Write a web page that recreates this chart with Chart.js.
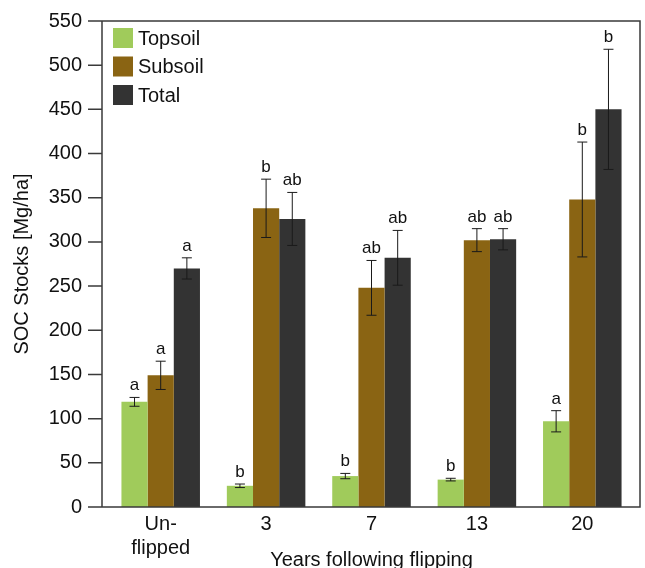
<!DOCTYPE html>
<html>
<head>
<meta charset="utf-8">
<script src="https://cdn.jsdelivr.net/npm/chart.js@4/dist/chart.umd.min.js"></script>
<style>
html,body{margin:0;padding:0;background:#fff;}
#wrap{width:645px;height:568px;}
</style>
</head>
<body>
<div id="wrap"><canvas id="c" width="645" height="568"></canvas></div>
<script>
const categories = [["Un-","flipped"], "3", "7", "13", "20"];
const seriesNames = ["Topsoil", "Subsoil", "Total"];
const topsoil = [119, 24, 35, 31, 97];
const subsoil = [149, 338, 248, 302, 348];
const total = [270, 326, 282, 303, 450];
const topsoilErr = [5, 2, 3, 1.5, 12];
const subsoilErr = [16, 33, 31, 13, 65];
const totalErr = [12, 30, 31, 12, 68];
const topsoilLetters = ["a", "b", "b", "b", "a"];
const subsoilLetters = ["a", "b", "ab", "ab", "b"];
const totalLetters = ["a", "ab", "ab", "ab", "b"];
const yTicks = [0, 50, 100, 150, 200, 250, 300, 350, 400, 450, 500, 550];
const colors = ["#a0cb5b", "#8a6413", "#333333"];

const FONT = "'Liberation Sans', Arial, sans-serif";
const AXIS_X = 102;   // frame left edge (px)
const FRAME_R = 640;  // frame right edge (px)

const overlay = {
  id: 'overlay',
  afterDatasetsDraw(chart) {
    const ctx = chart.ctx;
    const ys = chart.scales.y;
    const ca = chart.chartArea;
    ctx.save();
    ctx.strokeStyle = '#3a3a3a';
    ctx.lineWidth = 1.5;
    ctx.beginPath();
    ctx.moveTo(AXIS_X, ca.bottom);
    ctx.lineTo(AXIS_X, ca.top);
    ctx.lineTo(FRAME_R, ca.top);
    ctx.lineTo(FRAME_R, ca.bottom);
    ctx.lineTo(AXIS_X - 14, ca.bottom);
    ys.ticks.forEach(t => {
      const y = ys.getPixelForValue(t.value);
      ctx.moveTo(AXIS_X - 14, y);
      ctx.lineTo(AXIS_X, y);
    });
    ctx.stroke();
    chart.data.datasets.forEach((ds, di) => {
      const meta = chart.getDatasetMeta(di);
      meta.data.forEach((bar, i) => {
        const v = ds.data[i];
        const e = ds.err[i];
        const x = bar.x;
        const yHi = ys.getPixelForValue(v + e);
        const yLo = ys.getPixelForValue(v - e);
        ctx.strokeStyle = '#1a1a1a';
        ctx.lineWidth = 1;
        ctx.beginPath();
        ctx.moveTo(x, yHi); ctx.lineTo(x, yLo);
        ctx.moveTo(x - 5, yHi); ctx.lineTo(x + 5, yHi);
        ctx.moveTo(x - 5, yLo); ctx.lineTo(x + 5, yLo);
        ctx.stroke();
        ctx.fillStyle = '#111';
        ctx.font = "17px " + FONT;
        ctx.textAlign = 'center';
        ctx.textBaseline = 'alphabetic';
        ctx.fillText(ds.letters[i], x, yHi - 7);
      });
    });
    ctx.font = "20px " + FONT;
    ctx.textAlign = 'left';
    ctx.textBaseline = 'middle';
    chart.data.datasets.forEach((ds, di) => {
      const y0 = ca.top + 7 + di * 28.5;
      ctx.fillStyle = ds.backgroundColor;
      ctx.fillRect(AXIS_X + 11, y0, 20, 20);
      ctx.fillStyle = '#111';
      ctx.fillText(ds.label, AXIS_X + 36, y0 + 11);
    });
    ctx.restore();
  }
};

const datasets = [topsoil, subsoil, total].map((d, k) => ({
  label: seriesNames[k],
  data: d,
  err: [topsoilErr, subsoilErr, totalErr][k],
  letters: [topsoilLetters, subsoilLetters, totalLetters][k],
  backgroundColor: colors[k],
  borderWidth: 0,
  categoryPercentage: 0.745,
  barPercentage: 1.0
}));

new Chart(document.getElementById('c'), {
  type: 'bar',
  data: { labels: categories, datasets },
  options: {
    responsive: false,
    animation: false,
    layout: { padding: { top: 21, right: 10, left: 0, bottom: 0 } },
    plugins: { legend: { display: false }, tooltip: { enabled: false } },
    scales: {
      x: {
        grid: { display: false, drawTicks: false },
        border: { display: false },
        ticks: { color: '#111', font: { family: FONT, size: 20 }, padding: 5 },
        title: { display: true, text: 'Years following flipping', color: '#111', font: { family: FONT, size: 20 }, padding: { top: 0, bottom: -4 } },
        afterFit(s) { s.height = 61; s.paddingLeft = 0; s.paddingRight = 0; }
      },
      y: {
        min: 0, max: 550,
        afterBuildTicks(s) { s.ticks = yTicks.map(v => ({ value: v })); },
        grid: { display: false, drawTicks: false },
        border: { display: false },
        ticks: { color: '#111', font: { family: FONT, size: 20 }, padding: 26 },
        title: { display: true, text: 'SOC Stocks [Mg/ha]', color: '#111', font: { family: FONT, size: 20 }, padding: { top: 10, bottom: 0 } },
        afterFit(s) { s.width = 108; s.paddingTop = 0; s.paddingBottom = 0; }
      }
    }
  },
  plugins: [overlay]
});
</script>
</body>
</html>
